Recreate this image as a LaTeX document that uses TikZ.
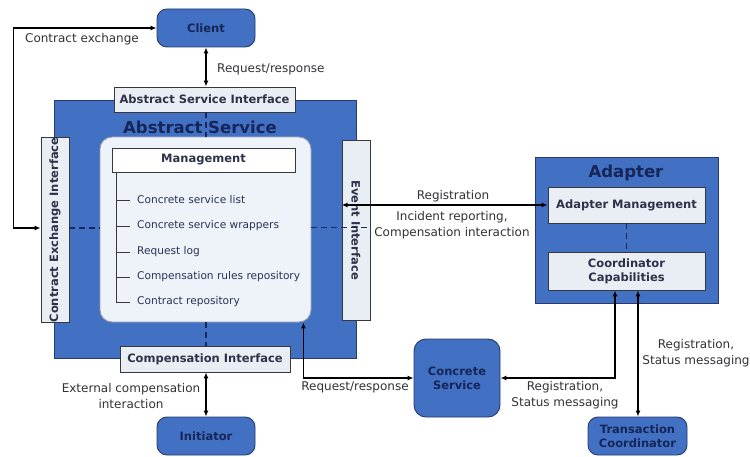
\documentclass[tikz,border=0pt]{standalone}
\usepackage{fontspec}
\setmainfont{DejaVu Sans}
\usetikzlibrary{arrows.meta}
\definecolor{boxblue}{RGB}{66,112,194}
\definecolor{edgeblue}{RGB}{38,58,110}
\definecolor{navy}{RGB}{22,38,88}
\definecolor{iffill}{RGB}{233,237,244}
\definecolor{mgfill}{RGB}{238,242,249}
\definecolor{mgedge}{RGB}{150,158,172}
\definecolor{ifedge}{RGB}{55,55,60}
\definecolor{iftext}{RGB}{45,50,72}
\definecolor{lbltext}{RGB}{50,50,55}
\definecolor{itemtext}{RGB}{40,50,85}
\definecolor{dashcol}{RGB}{25,40,90}
\begin{document}
\begin{tikzpicture}[x=1pt,y=-1pt,
 bluebox/.style={draw=edgeblue, fill=boxblue, line width=0.9pt, text=navy,
   font=\bfseries\fontsize{11.5}{14}\selectfont, align=center, inner sep=0pt},
 ifbox/.style={draw=ifedge, fill=iffill, line width=0.9pt, text=iftext,
   font=\bfseries\fontsize{11.5}{14}\selectfont, inner sep=0pt, align=center},
 lbl/.style={text=lbltext, font=\fontsize{12}{15.5}\selectfont, inner sep=0pt, align=center},
 item/.style={text=itemtext, font=\fontsize{10.6}{12}\selectfont, anchor=west, inner sep=0pt},
 conn/.style={line width=1.4pt, {Latex[length=6pt,width=5pt]}-{Latex[length=6pt,width=5pt]}},
 dashln/.style={line width=1.9pt, dash pattern=on 6pt off 4pt, draw=dashcol},
 treeln/.style={line width=0.8pt, draw=ifedge}
]
\useasboundingbox (0,0) rectangle (750,457);
\fill[white] (0,0) rectangle (750,457);

% Abstract service container
\node[bluebox, minimum width=302pt, minimum height=258pt] (as) at (205,229) {};
\node[text=navy, font=\bfseries\fontsize{16.5}{18}\selectfont, inner sep=0pt] (astitle) at (200,127) {Abstract Service};

% Client
\node[bluebox, rounded corners=10pt, minimum width=98pt, minimum height=38pt] (client) at (206,28) {Client};
% Abstract service interface
\node[ifbox, minimum width=181pt, minimum height=25pt] (asi) at (204.5,99.5) {Abstract Service Interface};
% Contract exchange interface
\node[ifbox, rotate=90, minimum width=180pt, minimum height=28pt] (cei) at (55,230) {Contract Exchange Interface};
% Event interface
\node[ifbox, rotate=-90, minimum width=180pt, minimum height=28pt] (ei) at (356,230) {Event Interface};
% Management area
\node[draw=mgedge, fill=mgfill, line width=0.9pt, rounded corners=12pt, minimum width=211pt, minimum height=185pt, inner sep=0pt] (mg) at (205.5,229.5) {};
\node[draw=ifedge, fill=white, line width=0.9pt, text=iftext, font=\bfseries\fontsize{11.5}{14}\selectfont, minimum width=183pt, minimum height=24pt, inner sep=0pt] (hdr) at (203.5,160) {Management};
% Compensation interface
\node[ifbox, minimum width=170pt, minimum height=26pt] (ci) at (205,359) {Compensation Interface};
% Initiator
\node[bluebox, rounded corners=10pt, minimum width=98pt, minimum height=38pt] (init) at (206,436) {Initiator};
% Concrete service
\node[bluebox, rounded corners=12pt, minimum width=86pt, minimum height=78pt] (cs) at (457,378) {Concrete\\Service};
% Adapter
\node[bluebox, minimum width=183pt, minimum height=146pt] (ad) at (626.5,230) {};
\node[text=navy, font=\bfseries\fontsize{16.5}{18}\selectfont, inner sep=0pt] (adtitle) at (626,173) {Adapter};
\node[ifbox, minimum width=157pt, minimum height=36pt] (am) at (626.5,205) {Adapter Management};
\node[ifbox, minimum width=157pt, minimum height=38pt] (cc) at (626.5,271) {Coordinator\\Capabilities};
% Transaction coordinator
\node[bluebox, rounded corners=10pt, minimum width=99pt, minimum height=38pt] (tc) at (637.5,436) {Transaction\\Coordinator};

% Management tree
\coordinate (tr0) at ([xshift=5pt]hdr.south west);
\node[item] (it1) at (137,200) {Concrete service list};
\node[item] (it2) at (137,226) {Concrete service wrappers};
\node[item] (it3) at (137,252) {Request log};
\node[item] (it4) at (137,277) {Compensation rules repository};
\node[item] (it5) at (137,302) {Contract repository};
\draw[treeln] (tr0) |- ([xshift=-7pt]it5.west);
\foreach \i in {1,2,3,4}{\draw[treeln] (tr0 |- it\i.west) -- ([xshift=-7pt]it\i.west);}

% Dashed internal links
\draw[dashln] ([xshift=1.5pt]asi.south) -- ([xshift=1.5pt]asi.south |- mg.north);
\draw[dashln] ([yshift=2pt]cei.south) -- ([yshift=2pt]cei.south -| mg.west);
\draw[dashln] ([yshift=2pt]mg.east) -- ([yshift=2pt]mg.east -| ei.north);
\draw[dashln] ([xshift=0.5pt]mg.south) -- ([xshift=0.5pt]mg.south |- ci.north);
\draw[dashln] (am.south) -- (cc.north);

% Connectors
\draw[conn] ([yshift=2pt]cei.north) -- ++(-27,0) |- (client.west);
\draw[conn] (client.south) -- (client.south |- asi.north);
\draw[conn] ([xshift=1pt]ci.south) -- ([xshift=1pt]ci.south |- init.north);
\draw[conn] ([xshift=-8pt]mg.south east) |- (cs.west);
\draw[conn] (am.west -| ei.south) -- (am.west);
\draw[conn] ([xshift=-11.5pt]cc.south) |- (cs.east);
\draw[conn] ([xshift=11.5pt]cc.south) -- ([xshift=11.5pt]cc.south |- tc.north);

% Labels
\node[lbl] (l1) at (82,39) {Contract exchange};
\node[lbl, anchor=west] (l2) at (217,69) {Request/response};
\node[lbl] (l3) at (453,196) {Registration};
\node[lbl] (l4) at (452,225) {Incident reporting,\\Compensation interaction};
\node[lbl] (l5) at (131,396) {External compensation\\interaction};
\node[lbl] (l6) at (355,387) {Request/response};
\node[lbl] (l7) at (565,395) {Registration,\\Status messaging};
\node[lbl] (l8) at (696,353) {Registration,\\Status messaging};
\end{tikzpicture}
\end{document}
